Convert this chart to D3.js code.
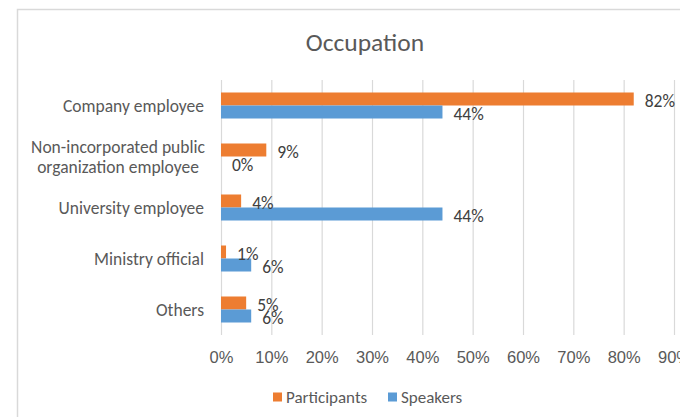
<!DOCTYPE html>
<html>
<head>
<meta charset="utf-8">
<script src="https://cdn.jsdelivr.net/npm/d3@7/dist/d3.min.js"></script>
<style>
  html, body { margin: 0; padding: 0; background: #fff; }
  svg { display: block; font-family: Carlito, Lato, "Liberation Sans Narrow", sans-serif; }
</style>
</head>
<body>
<svg id="chart" width="680" height="417"></svg>
<script>
// Occupation shares, participants vs. speakers
const categories = [
  "Company employee",
  "Non-incorporated public organization employee",
  "University employee",
  "Ministry official",
  "Others"
];
const categoryLines = [
  ["Company employee"],
  ["Non-incorporated public", "organization employee"],
  ["University employee"],
  ["Ministry official"],
  ["Others"]
];
const seriesNames = ["Participants", "Speakers"];
const participants = [82, 9, 4, 1, 5];
const speakers = [44, 0, 44, 6, 6];
const xTicks = [0, 10, 20, 30, 40, 50, 60, 70, 80, 90];

const colors = { Participants: "#ED7D31", Speakers: "#5B9BD5" };
const textColor = "#595959";

const svg = d3.select("#chart");

// chart frame (runs past the right/bottom edges)
svg.append("rect")
  .attr("x", 17.5).attr("y", 9.5)
  .attr("width", 700).attr("height", 430)
  .attr("fill", "#fff")
  .attr("stroke", "#d9d9d9")
  .attr("stroke-width", 1.5);

svg.append("text")
  .attr("x", 365).attr("y", 51)
  .attr("text-anchor", "middle")
  .attr("fill", textColor)
  .attr("font-size", 25.5)
  .text("Occupation");

const plot = { top: 80, bottom: 335 };

const x = d3.scaleLinear().domain([0, 90]).range([221, 674]);
const y = d3.scaleBand().domain(categories).range([plot.top, plot.bottom]).paddingInner(0.49).paddingOuter(0.245);
const sub = d3.scaleBand().domain(seriesNames).range([0, y.bandwidth()]);

// vertical gridlines
svg.append("g")
  .selectAll("line")
  .data(xTicks)
  .join("line")
  .attr("x1", d => x(d) + 0.5).attr("x2", d => x(d) + 0.5)
  .attr("y1", plot.top).attr("y2", plot.bottom)
  .attr("stroke", "#d9d9d9")
  .attr("stroke-width", 1.2);

// x axis labels
const xAxis = d3.axisBottom(x).tickValues(xTicks).tickFormat(d => d + "%").tickSize(0).tickPadding(0);
const gx = svg.append("g").attr("transform", `translate(0, ${plot.bottom + 28})`).call(xAxis);
gx.select(".domain").remove();
gx.selectAll("text").attr("fill", textColor).attr("font-size", 16.5).attr("font-family", null).attr("dy", 0);

// category labels
const catG = svg.append("g");
categories.forEach((c, i) => {
  const lines = categoryLines[i];
  const cy = y(c) + y.bandwidth() / 2;
  const lh = 20;
  const t = catG.append("text")
    .attr("fill", textColor)
    .attr("font-size", 17.5)
    .attr("text-anchor", lines.length > 1 ? "middle" : "end");
  lines.forEach((ln, k) => {
    t.append("tspan")
      .attr("x", lines.length > 1 ? 118 : 204)
      .attr("y", cy + (k - (lines.length - 1) / 2) * lh)
      .attr("dy", "0.35em")
      .text(ln);
  });
});

// bars first, then all value labels on top of them
const series = [
  { name: "Participants", values: participants },
  { name: "Speakers", values: speakers }
];
const barLayer = svg.append("g");
const labelLayer = svg.append("g");
series.forEach(s => {
  barLayer.append("g")
    .selectAll("rect")
    .data(s.values)
    .join("rect")
    .attr("x", x(0))
    .attr("y", (d, i) => y(categories[i]) + sub(s.name))
    .attr("width", d => x(d) - x(0))
    .attr("height", sub.bandwidth())
    .attr("fill", colors[s.name]);
  labelLayer.append("g")
    .selectAll("text")
    .data(s.values)
    .join("text")
    .attr("x", d => x(d) + 11)
    .attr("y", (d, i) => y(categories[i]) + sub(s.name) + sub.bandwidth() / 2 + 1.5)
    .attr("dy", "0.35em")
    .attr("fill", "#404040")
    .attr("font-size", 17.5)
    .text(d => d + "%");
});

// legend
const legend = svg.append("g").attr("transform", "translate(273, 397)");
const legendX = [0, 115];
seriesNames.forEach((n, i) => {
  const lg = legend.append("g").attr("transform", `translate(${legendX[i]}, 0)`);
  lg.append("rect").attr("x", 0).attr("y", -4.5).attr("width", 9).attr("height", 9).attr("fill", colors[n]);
  lg.append("text").attr("x", 13).attr("y", 0).attr("dy", "0.35em")
    .attr("fill", textColor).attr("font-size", 17).text(n);
});
</script>
</body>
</html>
